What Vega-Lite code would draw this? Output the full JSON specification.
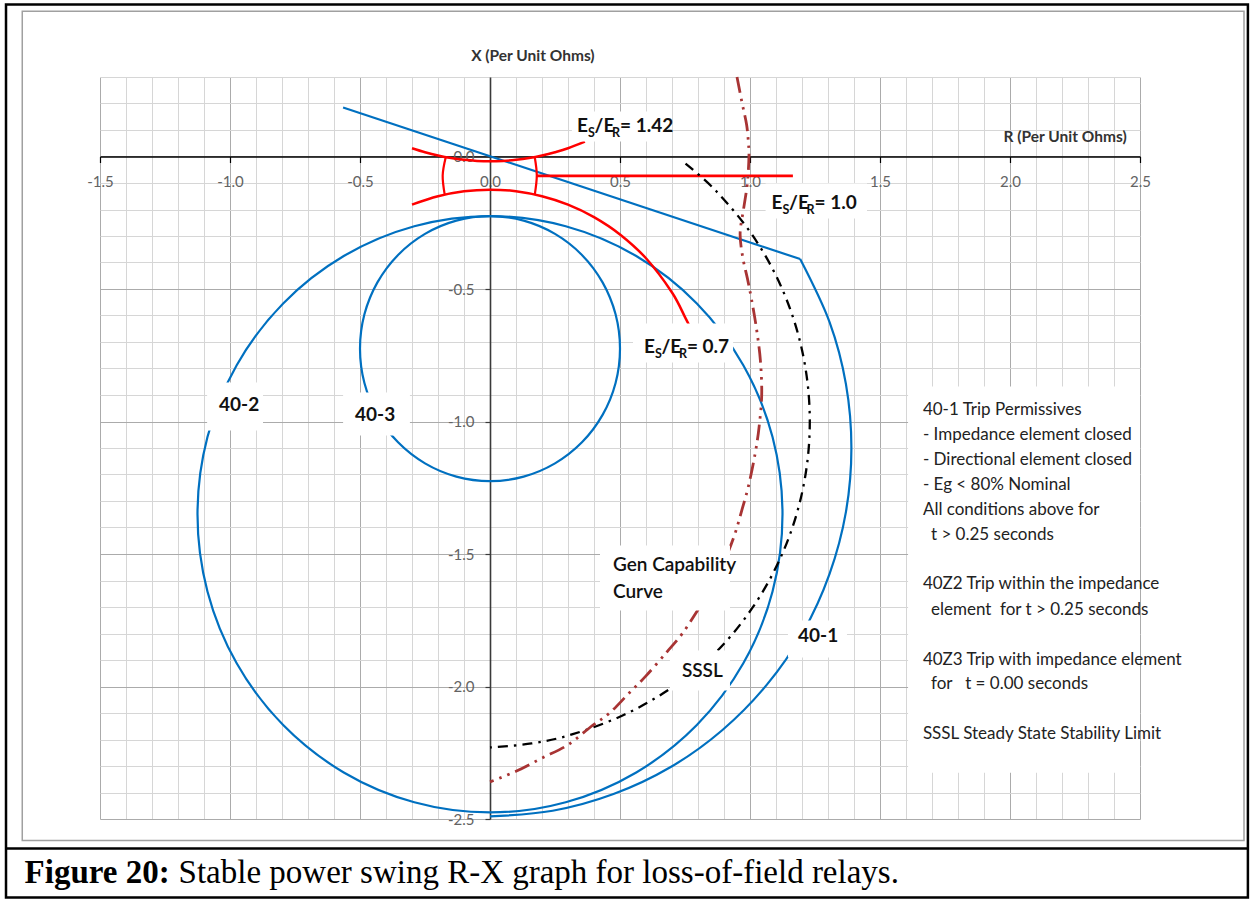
{
  "$schema": "https://vega.github.io/schema/vega-lite/v6.json",
  "width": 1040,
  "height": 742,
  "autosize": {"type": "none"},
  "padding": {"left": 100, "top": 77, "right": 110, "bottom": 81},
  "background": "white",
  "config": {"view": {"stroke": null}},
  "datasets": {
    "c402": [
      {"i": 0, "x": 1.125, "y": -1.35}, {"i": 1, "x": 1.0867, "y": -1.0588}, {"i": 2, "x": 0.9743, "y": -0.7875}, {"i": 3, "x": 0.7955, "y": -0.5545},
      {"i": 4, "x": 0.5625, "y": -0.3757}, {"i": 5, "x": 0.2912, "y": -0.2633}, {"i": 6, "x": 0, "y": -0.225}, {"i": 7, "x": -0.2912, "y": -0.2633},
      {"i": 8, "x": -0.5625, "y": -0.3757}, {"i": 9, "x": -0.7955, "y": -0.5545}, {"i": 10, "x": -0.9743, "y": -0.7875}, {"i": 11, "x": -1.0867, "y": -1.0588},
      {"i": 12, "x": -1.125, "y": -1.35}, {"i": 13, "x": -1.0867, "y": -1.6412}, {"i": 14, "x": -0.9743, "y": -1.9125}, {"i": 15, "x": -0.7955, "y": -2.1455},
      {"i": 16, "x": -0.5625, "y": -2.3243}, {"i": 17, "x": -0.2912, "y": -2.4367}, {"i": 18, "x": 0, "y": -2.475}, {"i": 19, "x": 0.2912, "y": -2.4367},
      {"i": 20, "x": 0.5625, "y": -2.3243}, {"i": 21, "x": 0.7955, "y": -2.1455}, {"i": 22, "x": 0.9743, "y": -1.9125}, {"i": 23, "x": 1.0867, "y": -1.6412}
    ],
    "c403": [
      {"i": 0, "x": 0.5, "y": -0.725}, {"i": 1, "x": 0.483, "y": -0.5956}, {"i": 2, "x": 0.433, "y": -0.475}, {"i": 3, "x": 0.3536, "y": -0.3714},
      {"i": 4, "x": 0.25, "y": -0.292}, {"i": 5, "x": 0.1294, "y": -0.242}, {"i": 6, "x": 0, "y": -0.225}, {"i": 7, "x": -0.1294, "y": -0.242},
      {"i": 8, "x": -0.25, "y": -0.292}, {"i": 9, "x": -0.3536, "y": -0.3714}, {"i": 10, "x": -0.433, "y": -0.475}, {"i": 11, "x": -0.483, "y": -0.5956},
      {"i": 12, "x": -0.5, "y": -0.725}, {"i": 13, "x": -0.483, "y": -0.8544}, {"i": 14, "x": -0.433, "y": -0.975}, {"i": 15, "x": -0.3536, "y": -1.0786},
      {"i": 16, "x": -0.25, "y": -1.158}, {"i": 17, "x": -0.1294, "y": -1.208}, {"i": 18, "x": 0, "y": -1.225}, {"i": 19, "x": 0.1294, "y": -1.208},
      {"i": 20, "x": 0.25, "y": -1.158}, {"i": 21, "x": 0.3536, "y": -1.0786}, {"i": 22, "x": 0.433, "y": -0.975}, {"i": 23, "x": 0.483, "y": -0.8544}
    ],
    "l401": [{"x": -0.565, "y": 0.185}, {"x": 1.193, "y": -0.387}],
    "a401": [
      {"x": 1.193, "y": -0.387}, {"x": 1.306, "y": -0.625}, {"x": 1.369, "y": -0.859}, {"x": 1.39, "y": -1.1}, {"x": 1.369, "y": -1.341},
      {"x": 1.306, "y": -1.575}, {"x": 1.204, "y": -1.795}, {"x": 1.065, "y": -1.993}, {"x": 0.893, "y": -2.165}, {"x": 0.695, "y": -2.304},
      {"x": 0.475, "y": -2.406}, {"x": 0.241, "y": -2.469}, {"x": 0, "y": -2.49}
    ],
    "redUp": [
      {"x": -0.3, "y": 0.031}, {"x": -0.25, "y": 0.016}, {"x": -0.2, "y": 0.0036}, {"x": -0.15, "y": -0.006}, {"x": -0.1, "y": -0.0126},
      {"x": -0.05, "y": -0.0166}, {"x": 0, "y": -0.018}, {"x": 0.05, "y": -0.0166}, {"x": 0.1, "y": -0.0126}, {"x": 0.15, "y": -0.006},
      {"x": 0.2, "y": 0.0036}, {"x": 0.25, "y": 0.016}, {"x": 0.3, "y": 0.031}, {"x": 0.365, "y": 0.056}
    ],
    "redLow": [
      {"x": -0.3, "y": -0.1815}, {"x": -0.2, "y": -0.15}, {"x": -0.1, "y": -0.131}, {"x": 0, "y": -0.125}, {"x": 0.1, "y": -0.131},
      {"x": 0.2, "y": -0.15}, {"x": 0.3, "y": -0.1815}, {"x": 0.4, "y": -0.2285}, {"x": 0.5, "y": -0.294}, {"x": 0.6, "y": -0.384},
      {"x": 0.7, "y": -0.513}, {"x": 0.75, "y": -0.606}, {"x": 0.77, "y": -0.645}
    ],
    "redH": [{"x": 0.18, "y": -0.073}, {"x": 1.165, "y": -0.073}],
    "redBL": [{"x": -0.17, "y": -0.002}, {"x": -0.182, "y": -0.072}, {"x": -0.174, "y": -0.145}],
    "redBR": [{"x": 0.172, "y": -0.002}, {"x": 0.18, "y": -0.072}, {"x": 0.172, "y": -0.145}],
    "sssl": [
      {"x": 0.752, "y": -0.027}, {"x": 0.8697, "y": -0.1303}, {"x": 1.0076, "y": -0.2945}, {"x": 1.1148, "y": -0.4802}, {"x": 1.1881, "y": -0.6817},
      {"x": 1.2253, "y": -0.8928}, {"x": 1.2253, "y": -1.1072}, {"x": 1.1881, "y": -1.3183}, {"x": 1.1148, "y": -1.5198}, {"x": 1.0076, "y": -1.7055},
      {"x": 0.8697, "y": -1.8697}, {"x": 0.7055, "y": -2.0}, {"x": 0.5198, "y": -2.105}, {"x": 0.3183, "y": -2.18}, {"x": 0.16, "y": -2.215}, {"x": 0, "y": -2.23}
    ],
    "gen": [
      {"x": 0.95, "y": 0.3}, {"x": 0.97, "y": 0.2}, {"x": 0.987, "y": 0.12}, {"x": 0.994, "y": 0.05}, {"x": 0.996, "y": 0.0},
      {"x": 0.99, "y": -0.1}, {"x": 0.975, "y": -0.2}, {"x": 0.962, "y": -0.29}, {"x": 0.972, "y": -0.38}, {"x": 0.99, "y": -0.46},
      {"x": 1.006, "y": -0.54}, {"x": 1.025, "y": -0.65}, {"x": 1.04, "y": -0.77}, {"x": 1.045, "y": -0.9}, {"x": 1.035, "y": -1.02},
      {"x": 1.02, "y": -1.12}, {"x": 0.995, "y": -1.24}, {"x": 0.97, "y": -1.33}, {"x": 0.94, "y": -1.43}, {"x": 0.9, "y": -1.53},
      {"x": 0.85, "y": -1.63}, {"x": 0.8, "y": -1.71}, {"x": 0.74, "y": -1.8}, {"x": 0.68, "y": -1.87}, {"x": 0.6, "y": -1.96},
      {"x": 0.53, "y": -2.03}, {"x": 0.46, "y": -2.1}, {"x": 0.39, "y": -2.15}, {"x": 0.3, "y": -2.22}, {"x": 0.2, "y": -2.27},
      {"x": 0.1, "y": -2.32}, {"x": 0.0, "y": -2.36}
    ],
    "boxes": [
      {"x": 0.315, "x2": 0.696, "y": 0.17, "y2": 0.057},
      {"x": 1.06, "x2": 1.45, "y": -0.102, "y2": -0.234},
      {"x": 0.55, "x2": 0.935, "y": -0.63, "y2": -0.777},
      {"x": -1.088, "x2": -0.873, "y": -0.853, "y2": -1.034},
      {"x": -0.565, "x2": -0.308, "y": -0.891, "y2": -1.053},
      {"x": 1.146, "x2": 1.373, "y": -1.751, "y2": -1.891},
      {"x": 0.692, "x2": 0.923, "y": -1.864, "y2": -2.015},
      {"x": 0.423, "x2": 0.923, "y": -1.468, "y2": -1.713},
      {"x": 1.608, "x2": 2.5, "y": -0.868, "y2": -2.325}
    ],
    "esr": [
      {"x": 0.335, "y": 0.092, "rest": "= 1.42"},
      {"x": 1.083, "y": -0.197, "rest": "\u00a0= 1.0"},
      {"x": 0.592, "y": -0.741, "rest": "\u00a0= 0.7"}
    ]
  },
  "encoding": {
    "x": {
      "field": "x", "type": "quantitative",
      "scale": {"domain": [-1.5, 2.5], "nice": false, "zero": false},
      "axis": {
        "orient": "bottom", "offset": -662.5, "title": null,
        "values": [-1.5, -1.4, -1.3, -1.2, -1.1, -1.0, -0.9, -0.8, -0.7, -0.6, -0.5, -0.4, -0.3, -0.2, -0.1, 0, 0.1, 0.2, 0.3, 0.4, 0.5, 0.6, 0.7, 0.8, 0.9, 1.0, 1.1, 1.2, 1.3, 1.4, 1.5, 1.6, 1.7, 1.8, 1.9, 2.0, 2.1, 2.2, 2.3, 2.4, 2.5],
        "labelExpr": "round(datum.value*10) % 5 === 0 ? replace(format(datum.value, '.1f'), '\u2212', '-') : ''",
        "labelFont": "Lato", "labelFontSize": 15, "labelColor": "#636363",
        "labelPadding": 12, "labelFlush": false, "labelOverlap": false,
        "domainColor": "#000000", "domainWidth": 1.6,
        "tickSize": 6, "tickColor": "#000000", "tickWidth": 1.2,
        "tickOpacity": {"condition": {"test": "round(datum.value*10) % 5 === 0", "value": 1}, "value": 0},
        "grid": true,
        "gridColor": {"condition": {"test": "round(datum.value*10) % 5 === 0", "value": "#ababab"}, "value": "#d6d6d6"},
        "gridWidth": 1
      }
    },
    "y": {
      "field": "y", "type": "quantitative",
      "scale": {"domain": [-2.5, 0.3], "nice": false, "zero": false},
      "axis": {
        "orient": "left", "offset": -390, "title": null,
        "values": [-2.5, -2.4, -2.3, -2.2, -2.1, -2.0, -1.9, -1.8, -1.7, -1.6, -1.5, -1.4, -1.3, -1.2, -1.1, -1.0, -0.9, -0.8, -0.7, -0.6, -0.5, -0.4, -0.3, -0.2, -0.1, 0, 0.1, 0.2, 0.3],
        "labelExpr": "round(datum.value*10) % 5 === 0 ? replace(format(datum.value, '.1f'), '\u2212', '-') : ''",
        "labelFont": "Lato", "labelFontSize": 15, "labelColor": "#636363",
        "labelPadding": 11, "labelFlush": false, "labelOverlap": false,
        "domainColor": "#3a3a3a", "domainWidth": 1.6,
        "tickSize": 5, "tickColor": "#3a3a3a", "tickWidth": 1.2,
        "tickOpacity": {"condition": {"test": "round(datum.value*10) % 5 === 0", "value": 1}, "value": 0},
        "grid": true,
        "gridColor": {"condition": {"test": "round(datum.value*10) % 5 === 0", "value": "#ababab"}, "value": "#d6d6d6"},
        "gridWidth": 1
      }
    }
  },
  "layer": [
    {
      "data": {"values": [{"x": -1.799, "x2": 2.9, "y": 0.548, "y2": -2.581}]},
      "mark": {"type": "rect", "filled": false, "stroke": "#a0a0a0", "strokeWidth": 1.5},
      "encoding": {"x2": {"field": "x2"}, "y2": {"field": "y2"}}
    },
    {
      "data": {"values": [{"x": -1.8615, "x2": 2.915, "y": 0.5736, "y2": -2.796}]},
      "mark": {"type": "rect", "filled": false, "stroke": "#000000", "strokeWidth": 2.5},
      "encoding": {"x2": {"field": "x2"}, "y2": {"field": "y2"}}
    },
    {
      "data": {"values": [{"x": -1.8615, "x2": 2.915, "y": -2.611}]},
      "mark": {"type": "rule", "stroke": "#000000", "strokeWidth": 2.5},
      "encoding": {"x2": {"field": "x2"}}
    },
    {
      "data": {"name": "c402"},
      "mark": {"type": "line", "interpolate": "cardinal-closed", "stroke": "#0070c0", "strokeWidth": 2.2},
      "encoding": {"order": {"field": "i"}}
    },
    {
      "data": {"name": "c403"},
      "mark": {"type": "line", "interpolate": "cardinal-closed", "stroke": "#0070c0", "strokeWidth": 2.2},
      "encoding": {"order": {"field": "i"}}
    },
    {
      "data": {"name": "l401"},
      "mark": {"type": "line", "stroke": "#0070c0", "strokeWidth": 2.2},
      "encoding": {}
    },
    {
      "data": {"name": "a401"},
      "mark": {"type": "line", "interpolate": "cardinal", "stroke": "#0070c0", "strokeWidth": 2.2},
      "encoding": {"order": {"field": "y", "sort": "descending"}}
    },
    {
      "data": {"name": "redUp"},
      "mark": {"type": "line", "interpolate": "cardinal", "stroke": "#ff0000", "strokeWidth": 2.5},
      "encoding": {}
    },
    {
      "data": {"name": "redLow"},
      "mark": {"type": "line", "interpolate": "cardinal", "stroke": "#ff0000", "strokeWidth": 2.5},
      "encoding": {}
    },
    {
      "data": {"name": "redH"},
      "mark": {"type": "line", "stroke": "#ff0000", "strokeWidth": 2.8},
      "encoding": {}
    },
    {
      "data": {"name": "redBL"},
      "mark": {"type": "line", "interpolate": "cardinal", "stroke": "#ff0000", "strokeWidth": 2.2},
      "encoding": {"order": {"field": "y", "sort": "descending"}}
    },
    {
      "data": {"name": "redBR"},
      "mark": {"type": "line", "interpolate": "cardinal", "stroke": "#ff0000", "strokeWidth": 2.2},
      "encoding": {"order": {"field": "y", "sort": "descending"}}
    },
    {
      "data": {"name": "sssl"},
      "mark": {"type": "line", "interpolate": "cardinal", "stroke": "#000000", "strokeWidth": 2.3, "strokeDash": [10, 6, 2.5, 6]},
      "encoding": {"order": {"field": "y", "sort": "descending"}}
    },
    {
      "data": {"name": "gen"},
      "mark": {"type": "line", "interpolate": "cardinal", "stroke": "#a83434", "strokeWidth": 2.8, "strokeDash": [16, 6, 2.5, 6, 2.5, 6]},
      "encoding": {"order": {"field": "y", "sort": "descending"}}
    },
    {
      "data": {"name": "boxes"},
      "mark": {"type": "rect", "fill": "#ffffff", "stroke": null},
      "encoding": {"x2": {"field": "x2"}, "y2": {"field": "y2"}}
    },
    {
      "data": {"values": [
        {"x": -0.965, "y": -0.936, "t": "40-2"},
        {"x": -0.442, "y": -0.977, "t": "40-3"},
        {"x": 1.262, "y": -1.808, "t": "40-1"}
      ]},
      "mark": {"type": "text", "font": "Lato", "fontWeight": "bold", "fontSize": 19, "align": "center", "baseline": "middle", "color": "#111111"},
      "encoding": {"text": {"field": "t"}}
    },
    {
      "data": {"values": [
        {"x": 0.738, "y": -1.943, "t": "SSSL"},
        {"x": 0.473, "y": -1.543, "t": "Gen Capability"},
        {"x": 0.473, "y": -1.642, "t": "Curve"}
      ]},
      "mark": {"type": "text", "font": "Lato", "fontWeight": 600, "fontSize": 19, "align": "left", "baseline": "middle", "color": "#111111"},
      "encoding": {"text": {"field": "t"}}
    },
    {
      "data": {"values": [
        {"x": 1.665, "y": -0.958, "t": "40-1 Trip Permissives"},
        {"x": 1.665, "y": -1.05, "t": "- Impedance element closed"},
        {"x": 1.665, "y": -1.145, "t": "- Directional element closed"},
        {"x": 1.665, "y": -1.24, "t": "- Eg < 80% Nominal"},
        {"x": 1.665, "y": -1.333, "t": "All conditions above for"},
        {"x": 1.696, "y": -1.428, "t": "t > 0.25 seconds"},
        {"x": 1.665, "y": -1.615, "t": "40Z2 Trip within the impedance"},
        {"x": 1.696, "y": -1.711, "t": "element\u00a0 for t > 0.25 seconds"},
        {"x": 1.665, "y": -1.899, "t": "40Z3 Trip with impedance element"},
        {"x": 1.696, "y": -1.992, "t": "for\u00a0\u00a0 t = 0.00 seconds"},
        {"x": 1.665, "y": -2.181, "t": "SSSL Steady State Stability Limit"}
      ]},
      "mark": {"type": "text", "font": "Lato", "fontSize": 17, "align": "left", "baseline": "middle", "color": "#222222"},
      "encoding": {"text": {"field": "t"}}
    },
    {
      "data": {"values": [
        {"x": 0.165, "y": 0.381, "t": "X (Per Unit Ohms)"},
        {"x": 2.212, "y": 0.072, "t": "R (Per Unit Ohms)"}
      ]},
      "mark": {"type": "text", "font": "Lato", "fontWeight": "bold", "fontSize": 15.5, "align": "center", "baseline": "middle", "color": "#333333"},
      "encoding": {"text": {"field": "t"}}
    },
    {
      "data": {"name": "esr"},
      "mark": {"type": "text", "font": "Lato", "fontWeight": "bold", "fontSize": 19, "align": "left", "baseline": "alphabetic", "color": "#111111", "text": "E"},
      "encoding": {}
    },
    {
      "data": {"name": "esr"},
      "mark": {"type": "text", "font": "Lato", "fontWeight": "bold", "fontSize": 12.5, "align": "left", "baseline": "alphabetic", "color": "#111111", "text": "S", "dx": 11, "dy": 5},
      "encoding": {}
    },
    {
      "data": {"name": "esr"},
      "mark": {"type": "text", "font": "Lato", "fontWeight": "bold", "fontSize": 19, "align": "left", "baseline": "alphabetic", "color": "#111111", "text": "/E", "dx": 17.5},
      "encoding": {}
    },
    {
      "data": {"name": "esr"},
      "mark": {"type": "text", "font": "Lato", "fontWeight": "bold", "fontSize": 12.5, "align": "left", "baseline": "alphabetic", "color": "#111111", "text": "R", "dx": 35, "dy": 5},
      "encoding": {}
    },
    {
      "data": {"name": "esr"},
      "mark": {"type": "text", "font": "Lato", "fontWeight": "bold", "fontSize": 19, "align": "left", "baseline": "alphabetic", "color": "#111111", "dx": 43},
      "encoding": {"text": {"field": "rest"}}
    },
    {
      "data": {"values": [{"x": -1.79, "y": -2.743, "t": "Figure 20:"}]},
      "mark": {"type": "text", "font": "Liberation Serif", "fontWeight": "bold", "fontSize": 33, "align": "left", "baseline": "alphabetic", "color": "#000000"},
      "encoding": {"text": {"field": "t"}}
    },
    {
      "data": {"values": [{"x": -1.79, "y": -2.743, "t": "Stable power swing R-X graph for loss-of-field relays."}]},
      "mark": {"type": "text", "font": "Liberation Serif", "fontSize": 33, "align": "left", "baseline": "alphabetic", "color": "#000000", "dx": 154},
      "encoding": {"text": {"field": "t"}}
    }
  ]
}
